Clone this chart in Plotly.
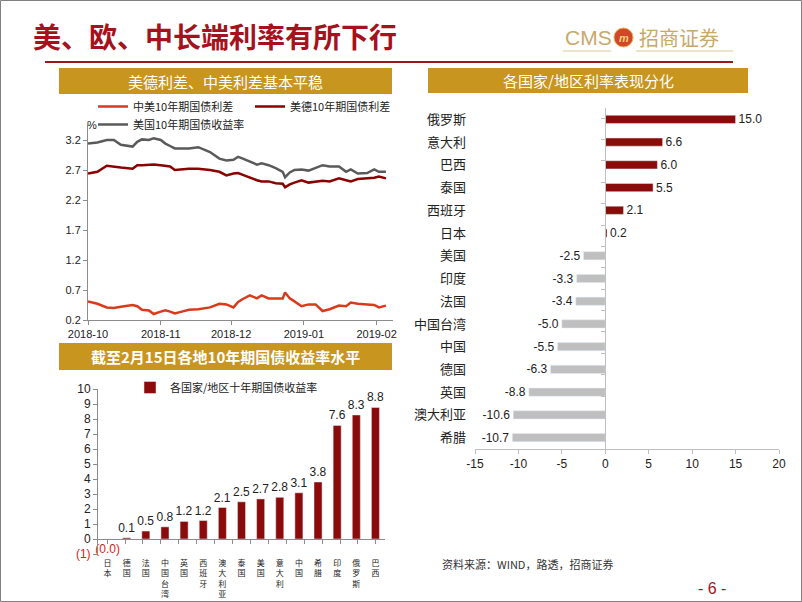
import plotly.graph_objects as go

# ---- line chart data ----
dates = ["2018-10-01", "2018-10-05", "2018-10-09", "2018-10-12", "2018-10-15", "2018-10-20", "2018-10-22",
         "2018-10-24", "2018-10-27", "2018-10-29", "2018-11-01", "2018-11-03", "2018-11-05", "2018-11-07",
         "2018-11-10", "2018-11-13", "2018-11-17", "2018-11-22", "2018-11-26", "2018-11-29", "2018-12-02",
         "2018-12-04", "2018-12-06", "2018-12-09", "2018-12-12", "2018-12-14", "2018-12-17", "2018-12-20",
         "2018-12-23", "2018-12-24", "2018-12-26", "2018-12-28", "2018-12-31", "2019-01-03", "2019-01-06",
         "2019-01-09", "2019-01-12", "2019-01-16", "2019-01-19", "2019-01-21", "2019-01-24", "2019-01-28",
         "2019-01-31", "2019-02-02", "2019-02-05"]
us10y = [3.14, 3.16, 3.20, 3.20, 3.12, 3.09, 3.17, 3.21, 3.20, 3.23,
         3.20, 3.14, 3.10, 3.06, 3.06, 3.06, 3.08, 3.00, 2.89, 2.86,
         2.87, 2.92, 2.89, 2.84, 2.79, 2.81, 2.78, 2.73, 2.67, 2.58, 2.66, 2.70, 2.71,
         2.69, 2.74, 2.78, 2.76, 2.76, 2.67, 2.71, 2.64, 2.65, 2.71,
         2.67, 2.67]
us_de = [2.64, 2.67, 2.77, 2.76, 2.74, 2.72, 2.78, 2.78, 2.79, 2.79,
         2.78, 2.77, 2.76, 2.70, 2.71, 2.72, 2.72, 2.70, 2.67, 2.61,
         2.64, 2.65, 2.62, 2.57, 2.53, 2.51, 2.51, 2.48, 2.47, 2.41, 2.46, 2.49, 2.53,
         2.49, 2.51, 2.52, 2.51, 2.56, 2.53, 2.51, 2.55, 2.56, 2.57,
         2.59, 2.56]
cn_us = [0.51, 0.47, 0.41, 0.40, 0.42, 0.45, 0.43, 0.37, 0.36, 0.30,
         0.34, 0.36, 0.34, 0.31, 0.34, 0.37, 0.38, 0.41, 0.47, 0.46,
         0.41, 0.50, 0.55, 0.61, 0.56, 0.61, 0.56, 0.56, 0.56, 0.66, 0.56, 0.51, 0.43,
         0.46, 0.46, 0.35, 0.38, 0.44, 0.43, 0.49, 0.47, 0.46, 0.45,
         0.41, 0.44]
line_ticks = ["2018-10-01", "2018-11-01", "2018-12-01", "2019-01-01", "2019-02-01"]
line_ticktext = ["2018-10", "2018-11", "2018-12", "2019-01", "2019-02"]
line_yticks = [0.2, 0.7, 1.2, 1.7, 2.2, 2.7, 3.2]

# ---- 10Y yield level bar chart ----
lvl_names = ["日本", "德国", "法国", "中国台湾", "英国", "西班牙", "澳大利亚", "泰国",
             "美国", "意大利", "中国", "希腊", "印度", "俄罗斯", "巴西"]
lvl_values = [-0.02, 0.08, 0.53, 0.81, 1.17, 1.23, 2.1, 2.48, 2.67, 2.78, 3.08, 3.8, 7.57, 8.27, 8.77]
lvl_yticks = [-1, 0, 1, 2, 3, 4, 5, 6, 7, 8, 9, 10]

# ---- rate change horizontal bar chart ----
chg_names = ["俄罗斯", "意大利", "巴西", "泰国", "西班牙", "日本", "美国", "印度",
             "法国", "中国台湾", "中国", "德国", "英国", "澳大利亚", "希腊"]
chg_values = [15.0, 6.6, 6.0, 5.5, 2.1, 0.2, -2.5, -3.3, -3.4, -5.0, -5.5, -6.3, -8.8, -10.6, -10.7]
chg_xticks = [-15, -10, -5, 0, 5, 10, 15, 20]

W, H = 802, 602
RED = "#A5121D"
GOLD = "#C8951F"
BAR_RED = "#8B0A0A"
NUM = "Liberation Sans, Arial, sans-serif"
CJK = "Noto Sans CJK SC, sans-serif"
AX = "#8C8C8C"


def px(x):
    return x / W


def py(y):
    return 1 - y / H


fig = go.Figure()

# line chart
fig.add_trace(go.Scatter(x=dates, y=cn_us, mode="lines", name="中美10年期国债利差",
                         line=dict(color="#D93A1B", width=2.5), xaxis="x", yaxis="y", legend="legend"))
fig.add_trace(go.Scatter(x=dates, y=us_de, mode="lines", name="美德10年期国债利差",
                         line=dict(color="#8B0000", width=2.5), xaxis="x", yaxis="y", legend="legend"))
fig.add_trace(go.Scatter(x=dates, y=us10y, mode="lines", name="美国10年期国债收益率",
                         line=dict(color="#5A5A5A", width=2.5), xaxis="x", yaxis="y", legend="legend2"))

# level bars
lvl_text = ["(%.1f)" % abs(v) if v < 0 else "%.1f" % v for v in lvl_values]
lvl_tcol = ["#E02020" if v < 0 else "#222222" for v in lvl_values]
fig.add_trace(go.Bar(x=lvl_names, y=lvl_values, name="各国家/地区十年期国债收益率",
                     marker_color=BAR_RED, width=0.42, text=lvl_text, textposition="outside",
                     constraintext="none", textfont=dict(family=NUM, size=12, color=lvl_tcol),
                     cliponaxis=False, xaxis="x2", yaxis="y2", legend="legend3"))
# axis line at zero for the level chart
fig.add_trace(go.Scatter(x=lvl_names, y=lvl_values, mode="markers", marker=dict(opacity=0),
                         hoverinfo="skip", showlegend=False, xaxis="x4", yaxis="y2"))

# change bars
chg_cols = [BAR_RED if v >= 0 else "#BFBFBF" for v in chg_values]
fig.add_trace(go.Bar(x=chg_values, y=chg_names, orientation="h", marker_color=chg_cols, width=0.36,
                     text=["%.1f" % v for v in chg_values], textposition="outside", constraintext="none",
                     textfont=dict(family=NUM, size=12, color="#222222"), cliponaxis=False,
                     showlegend=False, xaxis="x3", yaxis="y3"))
fig.add_trace(go.Scatter(x=chg_values, y=chg_names, mode="markers", marker=dict(opacity=0),
                         hoverinfo="skip", showlegend=False, xaxis="x3", yaxis="y6"))

tick_font = dict(family=NUM, size=11, color="#222222")

fig.update_layout(
    width=W, height=H, margin=dict(l=0, r=0, t=0, b=0, autoexpand=False),
    paper_bgcolor="white", plot_bgcolor="rgba(0,0,0,0)",
    showlegend=True, barmode="overlay",
    xaxis=dict(domain=[px(88), px(393)], anchor="y", type="date", range=["2018-10-01", "2019-02-08"],
               tickvals=line_ticks, ticktext=line_ticktext, showline=True, linecolor=AX, ticks="outside",
               ticklen=4, tickcolor=AX, showgrid=False, zeroline=False, tickfont=tick_font),
    yaxis=dict(domain=[py(320), py(125)], anchor="x", range=[0.2, 3.45], tickvals=line_yticks,
               ticktext=["%.1f" % v for v in line_yticks], showline=True, linecolor=AX, ticks="outside",
               ticklen=4, tickcolor=AX, showgrid=False, zeroline=False, tickfont=tick_font),
    xaxis2=dict(domain=[px(98), px(385)], anchor="y2", type="category", showline=False, ticks="",
                showgrid=False, zeroline=False, tickangle=0, ticklabelstandoff=3,
                tickfont=dict(family=CJK, size=8, color="#222222"),
                tickvals=lvl_names, ticktext=["<br>".join(n) for n in lvl_names]),
    xaxis4=dict(overlaying="x2", anchor="free", position=py(539), type="category", showline=True,
                linecolor=AX, ticks="outside", tickson="boundaries", ticklen=4, tickcolor=AX,
                showticklabels=False, showgrid=False, zeroline=False, categoryorder="array",
                categoryarray=lvl_names),
    yaxis2=dict(domain=[py(554), py(389)], anchor="x2", range=[-1, 10], tickvals=lvl_yticks,
                ticktext=['<span style="color:#E02020">(1)</span>'] + [str(v) for v in lvl_yticks[1:]],
                showline=True, linecolor=AX, ticks="outside", ticklen=4, tickcolor=AX, showgrid=False,
                zeroline=False, tickfont=dict(family=NUM, size=12, color="#222222")),
    xaxis3=dict(domain=[px(475), px(779)], anchor="y3", range=[-15, 20], tickvals=chg_xticks,
                ticktext=[str(v) for v in chg_xticks],
                showline=True, linecolor="#BFBFBF", ticks="outside", ticklen=4, tickcolor="#BFBFBF",
                showgrid=False, zeroline=False, tickfont=dict(family=NUM, size=12, color="#222222")),
    yaxis3=dict(domain=[py(449), py(108)], anchor="x3", type="category", categoryorder="array",
                categoryarray=chg_names, autorange="reversed", showline=False, ticks="", showgrid=False,
                zeroline=False, ticklabelstandoff=8, tickfont=dict(family=CJK, size=13, color="#222222")),
    yaxis6=dict(overlaying="y3", anchor="free", position=px(605), type="category", categoryorder="array",
                categoryarray=chg_names, autorange="reversed", showline=True, linecolor="#BFBFBF",
                ticks="outside", tickson="boundaries", ticklen=4, tickcolor="#BFBFBF",
                showticklabels=False, showgrid=False, zeroline=False),
    legend=dict(x=px(93), y=py(92), xanchor="left", yanchor="top", orientation="h", entrywidth=112,
                font=dict(family=CJK, size=11, color="#222222"), bgcolor="rgba(0,0,0,0)", itemwidth=30,
                tracegroupgap=0),
    legend2=dict(x=px(93), y=py(110), xanchor="left", yanchor="top", orientation="h",
                 font=dict(family=CJK, size=11, color="#222222"), bgcolor="rgba(0,0,0,0)", itemwidth=30),
    legend3=dict(x=px(130), y=py(373), xanchor="left", yanchor="top", orientation="h",
                 font=dict(family=CJK, size=11, color="#222222"), bgcolor="rgba(0,0,0,0)", itemwidth=30),
)

shapes = [
    dict(type="rect", xref="paper", yref="paper", x0=px(0.5), x1=px(801.5), y0=py(601.5), y1=py(0.5),
         line=dict(color="#7F7F7F", width=1)),
    dict(type="line", xref="paper", yref="paper", x0=px(45), x1=px(733), y0=py(62), y1=py(62),
         line=dict(color="#A0141E", width=2)),
    dict(type="rect", xref="paper", yref="paper", x0=px(59), x1=px(392), y0=py(94), y1=py(68),
         fillcolor=GOLD, line=dict(width=0)),
    dict(type="rect", xref="paper", yref="paper", x0=px(428), x1=px(748), y0=py(93), y1=py(68),
         fillcolor=GOLD, line=dict(width=0)),
    dict(type="rect", xref="paper", yref="paper", x0=px(59), x1=px(392), y0=py(370), y1=py(343),
         fillcolor=GOLD, line=dict(width=0)),
    # logo
    dict(type="circle", xref="paper", yref="paper", x0=px(614), x1=px(633), y0=py(47), y1=py(28),
         fillcolor="#D2462A", line=dict(color="#E8B04A", width=1)),
    dict(type="line", xref="paper", yref="paper", x0=px(563), x1=px(611), y0=py(51), y1=py(51),
         line=dict(color="#E9D9B5", width=1.5)),
    dict(type="line", xref="paper", yref="paper", x0=px(636), x1=px(733), y0=py(51), y1=py(51),
         line=dict(color="#E9D9B5", width=1.5)),
]

annotations = [
    dict(text="<b>美、欧、中长端利率有所下行</b>", x=px(31), y=py(36), xanchor="left", yanchor="middle",
         font=dict(family=CJK, size=28, color=RED)),
    dict(text="CMS", x=px(563), y=py(37), xanchor="left", yanchor="middle",
         font=dict(family=NUM, size=21, color="#C9A86A")),
    dict(text="<b><i>m</i></b>", x=px(623.5), y=py(37.5), xanchor="center", yanchor="middle",
         font=dict(family=NUM, size=11, color="#F5D27A")),
    dict(text="招商证券", x=px(637), y=py(37), xanchor="left", yanchor="middle",
         font=dict(family=CJK, size=20, color="#C9A86A")),
    dict(text="美德利差、中美利差基本平稳", x=px(225), y=py(81), xanchor="center", yanchor="middle",
         font=dict(family=CJK, size=15, color="white")),
    dict(text="各国家/地区利率表现分化", x=px(588), y=py(80.5), xanchor="center", yanchor="middle",
         font=dict(family=CJK, size=15, color="white")),
    dict(text="<b>截至2月15日各地10年期国债收益率水平</b>", x=px(225), y=py(356.5), xanchor="center",
         yanchor="middle", font=dict(family=CJK, size=15, color="white")),
    dict(text="%", x=px(92), y=py(125), xanchor="center", yanchor="middle",
         font=dict(family=NUM, size=11, color="#222222")),
    dict(text="资料来源：WIND，路透，招商证券", x=px(440), y=py(564), xanchor="left", yanchor="middle",
         font=dict(family=CJK, size=11, color="#333333")),
    dict(text="- 6 -", x=px(712), y=py(588), xanchor="center", yanchor="middle",
         font=dict(family=NUM, size=16, color=RED)),
]
for a in annotations:
    a.update(xref="paper", yref="paper", showarrow=False)

fig.update_layout(shapes=shapes, annotations=annotations)

fig.write_html("out.html", config={"displayModeBar": False},
               post_script="document.body.style.margin='0px';document.body.style.overflow='hidden';")
